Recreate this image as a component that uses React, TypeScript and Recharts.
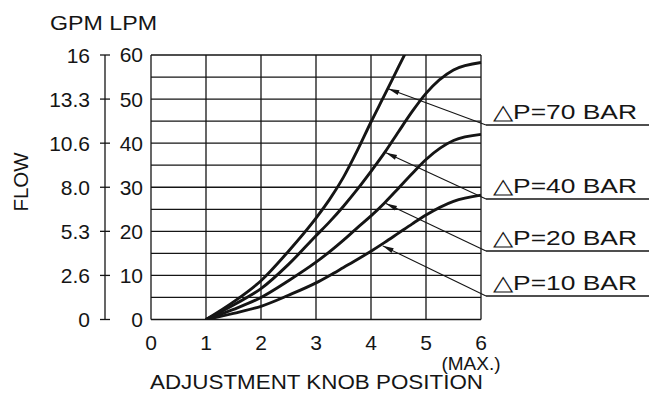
import React from 'react';
import { LineChart, Line, XAxis, YAxis, ReferenceLine, ReferenceDot, Label } from 'recharts';

// knob position (x) and flow in LPM for each pressure drop
const knob = [1, 1.5, 2, 2.5, 3, 3.25, 3.5, 3.75, 4, 4.25, 4.5, 4.75, 5, 5.5, 6];
const flow70 = [0, 4, 8.8, 15.5, 23, 27.3, 32.3, 38.3, 44.8, 51, 57.3, 63.5, null, null, null];
const flow40 = [0, 3.3, 7, 12.5, 19, 22.2, 25.7, 29.5, 33.6, 37.9, 42.6, 47.2, 51.3, 56.6, 58.3];
const flow20 = [0, 2.3, 5, 8.8, 13, 15.4, 18, 20.8, 23.5, 26.5, 29.8, 33.1, 36.3, 40.6, 42];
const flow10 = [0, 1.4, 3, 5.5, 8.3, 10, 11.8, 13.6, 15.5, 17.5, 19.6, 21.7, 23.7, 26.8, 28.2];

const knobTicks = [0, 1, 2, 3, 4, 5, 6];
const lpmTicks = [0, 10, 20, 30, 40, 50, 60];
const gpmLabels = ['0', '2.6', '5.3', '8.0', '10.6', '13.3', '16'];
const gridFlow = [0, 5, 10, 15, 20, 25, 30, 35, 40, 45, 50, 55, 60];

const seriesKeys = ['p70', 'p40', 'p20', 'p10'];
const legendLabels = ['△P=70 BAR', '△P=40 BAR', '△P=20 BAR', '△P=10 BAR'];
// where each leader arrow touches its curve
const arrowKnob = [4.28, 4.24, 4.24, 4.18];
const arrowFlow = [52.5, 38, 26.5, 16.9];

const data = knob.map((k, i) => ({
  knob: k,
  p70: flow70[i],
  p40: flow40[i],
  p20: flow20[i],
  p10: flow10[i],
}));

// layout for the callout labels on the right
const LABEL_X = 486;
const LABEL_END = 649;
const LABEL_Y = [125, 199, 251, 296];

const INK = '#151515';
const FONT = '"Liberation Sans", Arial, Helvetica, sans-serif';

const GpmTick = (props: any) => {
  const { x, y, index } = props;
  return (
    <g>
      <line x1={x - 5} x2={x + 5} y1={y} y2={y} stroke={INK} strokeWidth={1.3} />
      <text x={x - 15} y={y + 7.5} textAnchor="end" fontSize={21} fill={INK} fontFamily={FONT}>
        {gpmLabels[index]}
      </text>
    </g>
  );
};

const KnobTick = (props: any) => {
  const { x, y, payload } = props;
  if (payload.value === 6) {
    return (
      <text x={x} y={y + 30} textAnchor="middle" fill={INK} fontFamily={FONT}>
        <tspan x={x} fontSize={21}>6</tspan>
        <tspan x={x - 10} dy={20.5} fontSize={19}>(MAX.)</tspan>
      </text>
    );
  }
  return (
    <text x={x} y={y + 30} textAnchor="middle" fontSize={21} fill={INK} fontFamily={FONT}>
      {payload.value}
    </text>
  );
};

const Callout = (idx: number) => (props: any) => {
  const { cx, cy } = props;
  const ex = LABEL_X;
  const ey = LABEL_Y[idx];
  const dx = ex - cx;
  const dy = ey - cy;
  const len = Math.sqrt(dx * dx + dy * dy);
  const ux = dx / len;
  const uy = dy / len;
  const px = -uy;
  const py = ux;
  const tipX = cx + ux * 2;
  const tipY = cy + uy * 2;
  const bx = cx + ux * 13;
  const by = cy + uy * 13;
  return (
    <g>
      <line x1={tipX} y1={tipY} x2={ex} y2={ey} stroke={INK} strokeWidth={1.1} />
      <polygon
        points={`${tipX},${tipY} ${bx + px * 2.6},${by + py * 2.6} ${bx - px * 2.6},${by - py * 2.6}`}
        fill={INK}
      />
      <line x1={ex} y1={ey} x2={LABEL_END} y2={ey} stroke={INK} strokeWidth={1.3} />
      <text
        x={493}
        y={ey - 6}
        fontSize={21}
        fill={INK}
        fontFamily={FONT}
        textLength={144}
        lengthAdjust="spacingAndGlyphs"
      >
        {legendLabels[idx]}
      </text>
    </g>
  );
};

const Titles = () => (
  <g fontFamily={FONT} fill={INK}>
    <text x={50} y={30} fontSize={20} textLength={107} lengthAdjust="spacingAndGlyphs">
      GPM LPM
    </text>
    <text
      x={28}
      y={182}
      fontSize={20}
      textAnchor="middle"
      textLength={59}
      lengthAdjust="spacingAndGlyphs"
      transform="rotate(-90, 28, 182)"
    >
      FLOW
    </text>
    <text x={150} y={389} fontSize={20} textLength={333} lengthAdjust="spacingAndGlyphs">
      ADJUSTMENT KNOB POSITION
    </text>
  </g>
);

export default function App() {
  return (
    <div style={{ position: 'absolute', left: 0, top: 0, width: 649, height: 405, background: '#fff' }}>
      <LineChart
        width={649}
        height={405}
        data={data}
        margin={{ top: 55, right: 168, bottom: 55.5, left: 0 }}
        style={{ fontFamily: FONT }}
      >
        <XAxis
          dataKey="knob"
          type="number"
          domain={[0, 6]}
          ticks={knobTicks}
          axisLine={false}
          tickLine={false}
          tickSize={0}
          tickMargin={0}
          height={30}
          tick={<KnobTick />}
        />
        <YAxis
          yAxisId="axisB"
          type="number"
          domain={[0, 60]}
          ticks={lpmTicks}
          allowDataOverflow
          axisLine={{ stroke: INK, strokeWidth: 1.3 }}
          tickLine={false}
          tickSize={0}
          tickMargin={0}
          width={105}
          tick={<GpmTick />}
        >
          <Label content={<Titles />} />
        </YAxis>
        <YAxis
          yAxisId="axisA"
          type="number"
          domain={[0, 60]}
          ticks={lpmTicks}
          allowDataOverflow
          axisLine={false}
          tickLine={false}
          tickSize={0}
          tickMargin={8}
          width={46}
          tick={{ fontSize: 21, fill: INK, fontFamily: FONT }}
        />

        {gridFlow.map((v) => (
          <ReferenceLine key={`h${v}`} yAxisId="axisA" y={v} stroke={INK} strokeWidth={1.3} />
        ))}
        {knobTicks.map((v) => (
          <ReferenceLine key={`v${v}`} yAxisId="axisA" x={v} stroke={INK} strokeWidth={1.3} />
        ))}

        {/* invisible series so the GPM axis has data bound to it */}
        <Line
          yAxisId="axisB"
          dataKey="p10"
          stroke="none"
          dot={false}
          activeDot={false}
          legendType="none"
          isAnimationActive={false}
        />
        {seriesKeys.map((k) => (
          <Line
            key={k}
            yAxisId="axisA"
            type="monotone"
            dataKey={k}
            stroke={INK}
            strokeWidth={2.9}
            dot={false}
            isAnimationActive={false}
          />
        ))}

        {arrowKnob.map((x, i) => (
          <ReferenceDot
            key={`a${i}`}
            yAxisId="axisA"
            x={x}
            y={arrowFlow[i]}
            r={0}
            ifOverflow="visible"
            shape={Callout(i)}
          />
        ))}
      </LineChart>
    </div>
  );
}
